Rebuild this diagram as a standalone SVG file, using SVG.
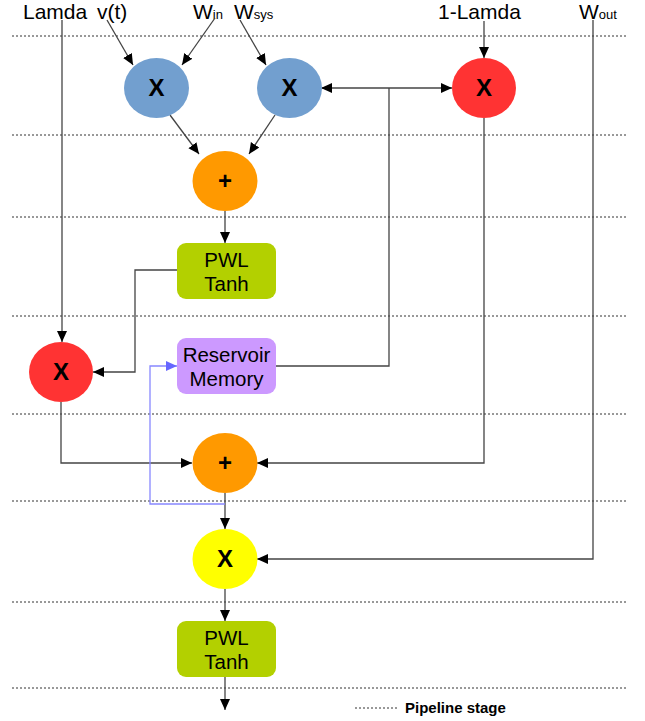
<svg xmlns="http://www.w3.org/2000/svg" width="645" height="721" viewBox="0 0 645 721">
<defs>
<marker id="ah" markerWidth="12" markerHeight="12" refX="11" refY="5" orient="auto" markerUnits="userSpaceOnUse" viewBox="0 0 12 10">
<path d="M0,0 L11,5 L0,10 Z" fill="#000"/>
</marker>
<marker id="ahb" markerWidth="12" markerHeight="12" refX="11" refY="5" orient="auto" markerUnits="userSpaceOnUse" viewBox="0 0 12 10">
<path d="M0,0 L11,5 L0,10 Z" fill="#6666ff"/>
</marker>
<marker id="ahs" markerWidth="12" markerHeight="12" refX="1" refY="5" orient="auto" markerUnits="userSpaceOnUse" viewBox="0 0 12 10">
<path d="M11,0 L0,5 L11,10 Z" fill="#000"/>
</marker>
</defs>
<style>
.stage{stroke:#333;stroke-width:1;stroke-dasharray:2,2;fill:none}
.c{stroke:#444;stroke-width:1.3;fill:none}
.cb{stroke:#8888ff;stroke-width:1.3;fill:none}
.op{font-family:"Liberation Sans",Arial,sans-serif;font-weight:bold;font-size:24px;text-anchor:middle;fill:#000}
.bt{font-family:"Liberation Sans",Arial,sans-serif;font-size:20.5px;text-anchor:middle;fill:#000}
.lbl{font-family:"Liberation Sans",Arial,sans-serif;font-size:21px;fill:#000}
.sub{font-size:13px}
</style>
<rect width="645" height="721" fill="#fff"/>
<g id="stages">
<line class="stage" x1="12" y1="36" x2="628" y2="36"/>
<line class="stage" x1="12" y1="135" x2="628" y2="135"/>
<line class="stage" x1="12" y1="217" x2="628" y2="217"/>
<line class="stage" x1="12" y1="316" x2="628" y2="316"/>
<line class="stage" x1="12" y1="414" x2="628" y2="414"/>
<line class="stage" x1="12" y1="501" x2="628" y2="501"/>
<line class="stage" x1="12" y1="602" x2="628" y2="602"/>
<line class="stage" x1="12" y1="688" x2="628" y2="688"/>
</g>
<g id="labels">
<text class="lbl" x="23" y="19">Lamda</text>
<text class="lbl" x="97" y="19">v(t)</text>
<text class="lbl" x="193" y="19">W<tspan class="sub">in</tspan></text>
<text class="lbl" x="234" y="19">W<tspan class="sub">sys</tspan></text>
<text class="lbl" x="438" y="19">1-Lamda</text>
<text class="lbl" x="579" y="19">W<tspan class="sub">out</tspan></text>
</g>
<g id="connectors">
<line class="c" x1="107" y1="20" x2="133" y2="65" marker-end="url(#ah)"/>
<line class="c" x1="215" y1="18" x2="182" y2="65" marker-end="url(#ah)"/>
<line class="c" x1="240" y1="20" x2="266" y2="65" marker-end="url(#ah)"/>
<line class="c" x1="62" y1="20" x2="62" y2="342" marker-end="url(#ah)"/>
<line class="c" x1="484" y1="21" x2="484" y2="58" marker-end="url(#ah)"/>
<polyline class="c" points="593,20 593,559 257,559" marker-end="url(#ah)"/>
<line class="c" x1="170" y1="115" x2="199" y2="154" marker-end="url(#ah)"/>
<line class="c" x1="275" y1="115" x2="249" y2="154" marker-end="url(#ah)"/>
<line class="c" x1="322" y1="88" x2="452" y2="88" marker-start="url(#ahs)" marker-end="url(#ah)"/>
<polyline class="c" points="276,366 389,366 389,88"/>
<line class="c" x1="225" y1="211" x2="225" y2="243" marker-end="url(#ah)"/>
<polyline class="c" points="177,270 135,270 135,372 93,372" marker-end="url(#ah)"/>
<polyline class="c" points="61,402 61,463 192,463" marker-end="url(#ah)"/>
<polyline class="c" points="484,118 484,463 257,463" marker-end="url(#ah)"/>
<line class="c" x1="225" y1="493" x2="225" y2="529" marker-end="url(#ah)"/>
<polyline class="cb" points="225,504 150,504 150,366 177,366" marker-end="url(#ahb)"/>
<line class="c" x1="225" y1="589" x2="225" y2="621" marker-end="url(#ah)"/>
<line class="c" x1="225" y1="677" x2="225" y2="710" marker-end="url(#ah)"/>
</g>
<g id="mulIn">
<ellipse cx="156.5" cy="88" rx="32.5" ry="30" fill="#729fcf"/>
<text class="op" x="156.5" y="96">X</text>
</g>
<g id="mulSys">
<ellipse cx="289.5" cy="88" rx="32.5" ry="30" fill="#729fcf"/>
<text class="op" x="289.5" y="96">X</text>
</g>
<g id="mulOneMinusLamda">
<ellipse cx="484" cy="88" rx="32" ry="30" fill="#ff3333"/>
<text class="op" x="484" y="96">X</text>
</g>
<g id="add1">
<ellipse cx="225" cy="181" rx="32.5" ry="30" fill="#ff9900"/>
<text class="op" x="225" y="189">+</text>
</g>
<g id="pwl1">
<rect x="177" y="243" width="99" height="56" rx="9" fill="#b3d000"/>
<text class="bt" x="226.5" y="267">PWL</text>
<text class="bt" x="226.5" y="291">Tanh</text>
</g>
<g id="mulLamda">
<ellipse cx="61" cy="372" rx="32" ry="30" fill="#ff3333"/>
<text class="op" x="61" y="380">X</text>
</g>
<g id="reservoir">
<rect x="177" y="338" width="99" height="56" rx="9" fill="#cc99ff"/>
<text class="bt" x="226.5" y="362">Reservoir</text>
<text class="bt" x="226.5" y="386">Memory</text>
</g>
<g id="add2">
<ellipse cx="225" cy="463" rx="32.5" ry="30" fill="#ff9900"/>
<text class="op" x="225" y="471">+</text>
</g>
<g id="mulOut">
<ellipse cx="225" cy="559" rx="32.5" ry="30" fill="#ffff00"/>
<text class="op" x="225" y="567">X</text>
</g>
<g id="pwl2">
<rect x="177" y="621" width="99" height="56" rx="9" fill="#b3d000"/>
<text class="bt" x="226.5" y="645">PWL</text>
<text class="bt" x="226.5" y="669">Tanh</text>
</g>
<g id="legend">
<line class="stage" x1="355" y1="708" x2="399" y2="708"/>
<text x="405" y="713" font-family="Liberation Sans, Arial, sans-serif" font-size="15" font-weight="bold">Pipeline stage</text>
</g>
</svg>
